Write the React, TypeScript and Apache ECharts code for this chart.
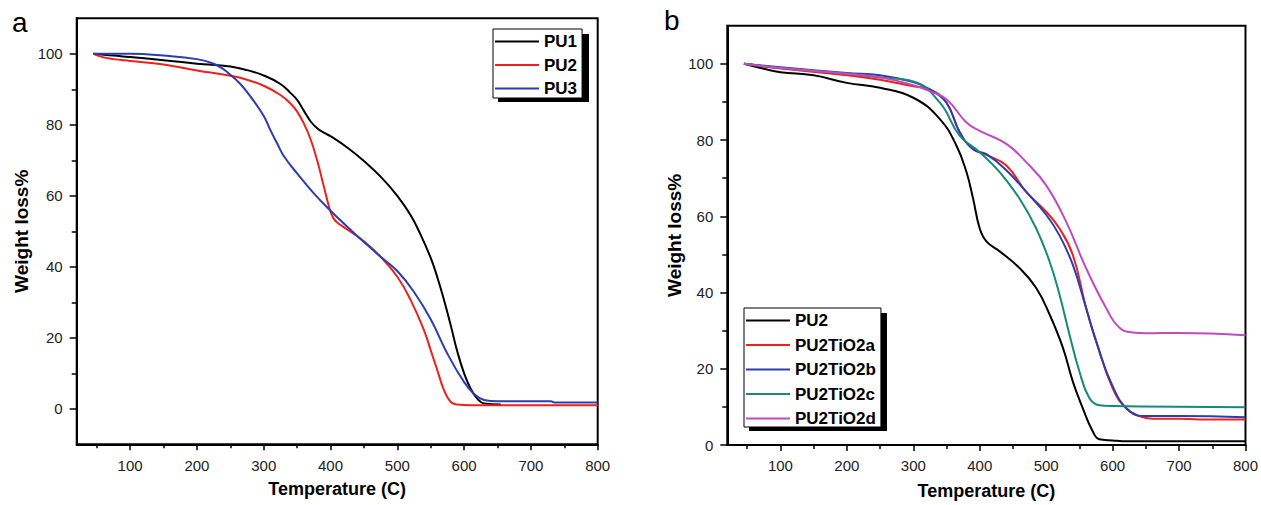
import React, { useEffect, useRef } from "react";
import * as echarts from "echarts";

// ---------- Tick labels ----------
const X_MAJOR = [100, 200, 300, 400, 500, 600, 700, 800];
const X_MINOR = [50, 150, 250, 350, 450, 550, 650, 750];
const Y_MAJOR = [0, 20, 40, 60, 80, 100];
const Y_MINOR = [10, 30, 50, 70, 90];

// ---------- Panel a ----------
const PU1_T = [45, 75, 100, 150, 200, 250, 275, 300, 325, 340, 350, 360, 370, 380, 390, 400, 425, 450, 475, 500, 520, 535, 550, 560, 570, 580, 590, 600, 610, 620, 630, 655];
const PU1_W = [100, 99.5, 99.1, 98.2, 97.2, 96.4, 95.4, 93.9, 91.5, 89, 87, 84, 81, 79, 77.8, 76.8, 73.6, 69.8, 65.4, 60, 54.5, 49, 42.5, 37, 30.6, 23.5, 16, 10, 5.6, 2.8, 1.5, 1.2];

const PU2A_T = [45, 60, 75, 100, 150, 200, 250, 275, 300, 325, 340, 350, 360, 370, 380, 390, 400, 405, 410, 425, 450, 475, 500, 520, 540, 550, 560, 570, 580, 590, 610, 800];
const PU2A_W = [100, 99, 98.5, 98, 97, 95.3, 93.8, 92.7, 91, 88.4, 86, 83.7, 80.4, 76, 70, 62.6, 55.5, 53.5, 52.5, 50.5, 47.2, 42.8, 37.2, 30.6, 22.1, 16.5, 10.8, 5.2, 1.9, 1.2, 1.0, 1.0];

const PU3_T = [45, 100, 150, 200, 225, 240, 250, 265, 280, 300, 310, 320, 330, 350, 375, 400, 425, 450, 475, 500, 525, 550, 575, 600, 615, 630, 650, 730, 735, 800];
const PU3_W = [100, 100, 99.5, 98.5, 97.2, 95.6, 94.1, 91.5, 88, 82.5, 78.5, 74.8, 71.2, 66.3, 60.7, 55.8, 51.3, 47, 42.8, 38.8, 32.9, 25.2, 15.5, 7.5, 4.2, 2.5, 2.1, 2.1, 1.8, 1.8];

// ---------- Panel b ----------
const PU2B_T = [45, 75, 100, 150, 200, 250, 300, 340, 365, 380, 390, 400, 410, 430, 460, 485, 505, 525, 540, 555, 570, 580, 600, 615, 800];
const PU2B_W = [100, 98.7, 97.8, 97, 95, 93.7, 91.1, 85.5, 78.5, 71.6, 64.6, 56.8, 53.4, 50.8, 46.4, 41.2, 34.3, 25.6, 16.7, 9.7, 3.6, 1.5, 1.2, 1.0, 1.0];

const TIA_T = [45, 100, 200, 250, 300, 325, 350, 370, 390, 410, 440, 470, 500, 520, 540, 560, 575, 600, 620, 640, 660, 700, 730, 800];
const TIA_W = [100, 98.8, 97, 95.8, 94.1, 93.3, 89.8, 82, 77.6, 76.1, 73.3, 66.4, 61.2, 56.8, 49.9, 36, 27.3, 14.9, 9.7, 7.6, 6.9, 6.9, 6.7, 6.7];

const TIB_T = [45, 100, 200, 250, 300, 325, 350, 370, 390, 410, 440, 470, 500, 520, 540, 560, 575, 600, 625, 650, 700, 800];
const TIB_W = [100, 99.1, 97.6, 97, 95.2, 93.3, 89.8, 82, 77.6, 76.3, 72.1, 66.4, 60.4, 55, 47.3, 36, 27.3, 15.4, 8.9, 7.6, 7.6, 7.3];

const TIC_T = [45, 100, 200, 250, 300, 340, 370, 400, 430, 460, 485, 505, 520, 535, 550, 565, 580, 600, 800];
const TIC_W = [100, 98.9, 97.4, 96.4, 95.4, 89.8, 81.1, 76.8, 71.6, 64.6, 56.8, 48.2, 39.5, 29, 19.3, 12.3, 10.4, 10.2, 9.9];

const TID_T = [45, 100, 200, 250, 300, 325, 350, 380, 400, 440, 470, 500, 530, 560, 590, 610, 630, 650, 700, 800];
const TID_W = [100, 98.9, 97.4, 96.5, 94.4, 92.8, 90.7, 84.6, 82.4, 79, 74.2, 68.1, 58.6, 46.4, 36, 30.8, 29.5, 29.3, 29.4, 28.8];

const NAMES_A = ["PU1", "PU2", "PU3"];
const NAMES_B = ["PU2", "PU2TiO2a", "PU2TiO2b", "PU2TiO2c", "PU2TiO2d"];

const FONT = "'Liberation Sans', Arial, sans-serif";
const BLACK = "#000000";
const RED = "#f0201a";
const BLUE = "#2a3db2";
const TEAL = "#148a78";
const MAGENTA = "#c24ac0";

const zip = (t: number[], w: number[]) => t.map((x, i) => [x, w[i]]);

function majorX(gridIndex: number, margin: number, nameGap: number) {
  return {
    type: "value",
    gridIndex,
    min: 20,
    max: 800,
    position: "bottom",
    name: "Temperature (C)",
    nameLocation: "middle",
    nameGap,
    nameTextStyle: { fontFamily: FONT, fontWeight: "bold", fontSize: 18, color: "#000" },
    axisLine: { show: true, onZero: false, lineStyle: { color: "#000", width: 2 } },
    axisTick: { show: true, inside: false, length: 6, lineStyle: { color: "#000", width: 1.5 }, customValues: X_MAJOR },
    axisLabel: { show: true, margin, fontFamily: FONT, fontSize: 15, color: "#222", customValues: X_MAJOR },
    splitLine: { show: false },
  };
}
function minorX(gridIndex: number) {
  return {
    type: "value",
    gridIndex,
    min: 20,
    max: 800,
    position: "bottom",
    axisLine: { show: false, onZero: false },
    axisTick: { show: true, inside: false, length: 4, lineStyle: { color: "#000", width: 1.5 }, customValues: X_MINOR },
    axisLabel: { show: false },
    splitLine: { show: false },
  };
}
function majorY(gridIndex: number, min: number, margin: number, nameGap: number) {
  return {
    type: "value",
    gridIndex,
    min,
    max: 110,
    position: "left",
    name: "Weight loss%",
    nameLocation: "middle",
    nameGap,
    nameTextStyle: { fontFamily: FONT, fontWeight: "bold", fontSize: 19, color: "#000" },
    axisLine: { show: true, onZero: false, lineStyle: { color: "#000", width: 2 } },
    axisTick: { show: true, inside: false, length: 7, lineStyle: { color: "#000", width: 1.5 }, customValues: Y_MAJOR },
    axisLabel: { show: true, margin, fontFamily: FONT, fontSize: 15, color: "#222", customValues: Y_MAJOR },
    splitLine: { show: false },
  };
}
function minorY(gridIndex: number, min: number) {
  return {
    type: "value",
    gridIndex,
    min,
    max: 110,
    position: "left",
    axisLine: { show: false, onZero: false },
    axisTick: { show: true, inside: false, length: 5, lineStyle: { color: "#000", width: 1.5 }, customValues: Y_MINOR },
    axisLabel: { show: false },
    splitLine: { show: false },
  };
}

function line(name: string, data: number[][], color: string, xAxisIndex: number, yAxisIndex: number) {
  return {
    type: "line",
    name,
    data,
    xAxisIndex,
    yAxisIndex,
    showSymbol: false,
    symbol: "none",
    smooth: 0.45,
    lineStyle: { color, width: 2 },
    itemStyle: { color },
    z: 3,
  };
}

function legend(names: string[], colors: string[], left: number, top: number, itemGap: number, padding: number[]) {
  return {
    data: names.map((n, i) => ({ name: n, itemStyle: { color: colors[i] }, lineStyle: { color: colors[i] } })),
    orient: "vertical",
    left,
    top,
    padding,
    itemGap,
    itemWidth: 44,
    itemHeight: 2,
    icon: "rect",
    selectedMode: false,
    backgroundColor: "#fff",
    borderColor: "#000",
    borderWidth: 1,
    z: 6,
    textStyle: { fontFamily: FONT, fontWeight: "bold", fontSize: 17, color: "#000", lineHeight: 16 },
  };
}

export default function App() {
  const ref = useRef<HTMLDivElement>(null);
  useEffect(() => {
    if (!ref.current) return;
    const chart = echarts.init(ref.current, undefined, { renderer: "svg" });
    chart.setOption({
      animation: false,
      backgroundColor: "#fff",
      grid: [
        { left: 76.7, top: 18.3, width: 521, height: 426, show: true, borderColor: "#000", borderWidth: 2, backgroundColor: "transparent" },
        { left: 727.3, top: 25.7, width: 518.4, height: 422.6, show: true, borderColor: "#000", borderWidth: 2, backgroundColor: "transparent" },
      ],
      xAxis: [majorX(0, 14, 36), minorX(0), majorX(1, 13, 37), minorX(1)],
      yAxis: [majorY(0, -10, 14, 46), minorY(0, -10), majorY(1, 0, 14, 36), minorY(1, 0)],
      legend: [
        legend(NAMES_A, [BLACK, RED, BLUE], 493, 29, 6.5, [4, 5, 1, 2]),
        legend(NAMES_B, [BLACK, RED, BLUE, TEAL, MAGENTA], 744, 308, 7.5, [4, 5, 0, 2]),
      ],
      series: [
        line("PU1", zip(PU1_T, PU1_W), BLACK, 0, 0),
        line("PU2", zip(PU2A_T, PU2A_W), RED, 0, 0),
        line("PU3", zip(PU3_T, PU3_W), BLUE, 0, 0),
        line("PU2", zip(PU2B_T, PU2B_W), BLACK, 2, 2),
        line("PU2TiO2a", zip(TIA_T, TIA_W), RED, 2, 2),
        line("PU2TiO2b", zip(TIB_T, TIB_W), BLUE, 2, 2),
        line("PU2TiO2c", zip(TIC_T, TIC_W), TEAL, 2, 2),
        line("PU2TiO2d", zip(TID_T, TID_W), MAGENTA, 2, 2),
      ],
      graphic: [
        { type: "text", left: 12, top: 8, style: { text: "a", fontFamily: FONT, fontSize: 28, fill: "#000" } },
        { type: "text", left: 664, top: 6, style: { text: "b", fontFamily: FONT, fontSize: 28, fill: "#000" } },
        { type: "rect", z: 5, shape: { x: 498, y: 34, width: 91, height: 68 }, style: { fill: "#000" } },
        { type: "rect", z: 5, shape: { x: 749, y: 313, width: 138, height: 118 }, style: { fill: "#000" } },
      ],
    });
    return () => chart.dispose();
  }, []);
  return (
    <div
      ref={ref}
      style={{ position: "fixed", left: 0, top: 0, width: 1261, height: 505, background: "#fff" }}
    />
  );
}
